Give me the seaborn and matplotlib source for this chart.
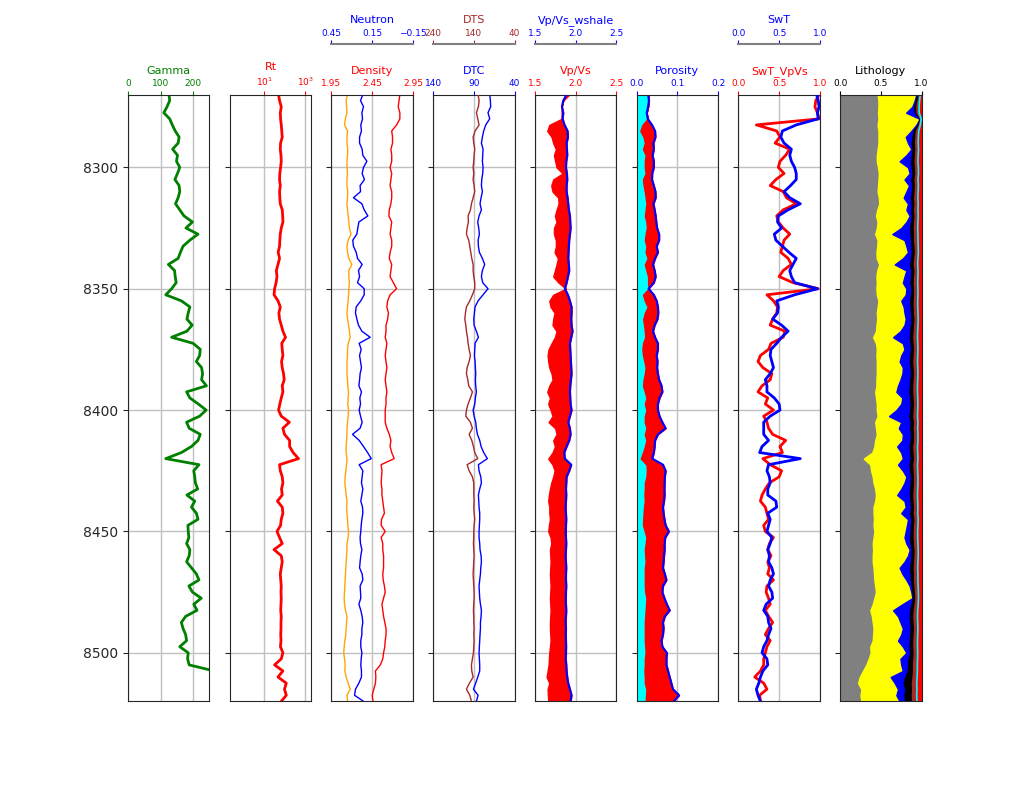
import numpy as np
import matplotlib
matplotlib.use("Agg")
import matplotlib.pyplot as plt
import seaborn as sns

# depth samples (ft), every 2.5 ft
depth = np.array([
    8270, 8272.5, 8275, 8277.5, 8280, 8282.5, 8285, 8287.5, 8290, 8292.5,
    8295, 8297.5, 8300, 8302.5, 8305, 8307.5, 8310, 8312.5, 8315, 8317.5,
    8320, 8322.5, 8325, 8327.5, 8330, 8332.5, 8335, 8337.5, 8340, 8342.5,
    8345, 8347.5, 8350, 8352.5, 8355, 8357.5, 8360, 8362.5, 8365, 8367.5,
    8370, 8372.5, 8375, 8377.5, 8380, 8382.5, 8385, 8387.5, 8390, 8392.5,
    8395, 8397.5, 8400, 8402.5, 8405, 8407.5, 8410, 8412.5, 8415, 8417.5,
    8420, 8422.5, 8425, 8427.5, 8430, 8432.5, 8435, 8437.5, 8440, 8442.5,
    8445, 8447.5, 8450, 8452.5, 8455, 8457.5, 8460, 8462.5, 8465, 8467.5,
    8470, 8472.5, 8475, 8477.5, 8480, 8482.5, 8485, 8487.5, 8490, 8492.5,
    8495, 8497.5, 8500, 8502.5, 8505, 8507.5, 8510, 8512.5, 8515, 8517.5,
    8520])

gamma = [126, 128, 120, 110, 128, 136, 145, 157, 154, 137,
         152, 149, 159, 152, 144, 157, 159, 154, 146, 159,
         172, 198, 178, 215, 190, 169, 161, 154, 124, 143,
         145, 148, 134, 116, 164, 190, 185, 181, 197, 181,
         134, 200, 222, 220, 210, 226, 229, 226, 241, 180,
         190, 216, 240, 220, 180, 188, 222, 215, 195, 164,
         116, 218, 202, 205, 207, 214, 181, 205, 195, 210,
         215, 184, 185, 187, 180, 190, 188, 180, 195, 210,
         218, 187, 198, 225, 202, 212, 177, 164, 169, 177,
         180, 159, 185, 183, 188, 265, 270, 275, 270, 265, 270]

rt = [50, 56, 68, 61, 63, 68, 72, 76, 63, 61,
      66, 68, 63, 58, 56, 61, 56, 58, 61, 76,
      80, 82, 68, 61, 58, 56, 48, 56, 47, 39,
      42, 38, 32, 30, 47, 61, 52, 56, 68, 82,
      110, 72, 76, 82, 70, 76, 88, 95, 76, 82,
      68, 58, 50, 68, 170, 82, 98, 175, 175, 260,
      480, 56, 61, 76, 82, 70, 76, 44, 76, 82,
      68, 63, 42, 56, 76, 30, 68, 76, 68, 61,
      64, 68, 66, 68, 66, 64, 68, 66, 66, 64,
      66, 62, 82, 68, 32, 82, 47, 120, 98, 120, 68]

density = [2.79, 2.78, 2.77, 2.79, 2.79, 2.75, 2.69, 2.70, 2.70, 2.68,
           2.69, 2.69, 2.67, 2.69, 2.68, 2.67, 2.69, 2.69, 2.68, 2.66,
           2.655, 2.69, 2.68, 2.67, 2.69, 2.69, 2.67, 2.66, 2.69, 2.68,
           2.67, 2.71, 2.75, 2.67, 2.64, 2.63, 2.65, 2.64, 2.62, 2.62,
           2.61, 2.63, 2.62, 2.61, 2.62, 2.63, 2.62, 2.61, 2.62, 2.63,
           2.62, 2.62, 2.61, 2.61, 2.61, 2.63, 2.66, 2.68, 2.67, 2.69,
           2.72, 2.56, 2.57, 2.565, 2.56, 2.57, 2.57, 2.58, 2.59, 2.60,
           2.565, 2.56, 2.61, 2.56, 2.58, 2.58, 2.59, 2.59, 2.59, 2.58,
           2.585, 2.60, 2.61, 2.59, 2.57, 2.58, 2.59, 2.605, 2.62, 2.62,
           2.61, 2.605, 2.59, 2.58, 2.55, 2.49, 2.495, 2.49, 2.47, 2.45, 2.46]

neutron = [0.219, 0.236, 0.214, 0.226, 0.221, 0.234, 0.229, 0.243, 0.243, 0.224,
           0.219, 0.189, 0.214, 0.224, 0.207, 0.239, 0.236, 0.288, 0.226, 0.209,
           0.182, 0.248, 0.256, 0.263, 0.293, 0.288, 0.268, 0.258, 0.224, 0.251,
           0.243, 0.258, 0.209, 0.209, 0.234, 0.268, 0.273, 0.263, 0.251, 0.226,
           0.165, 0.246, 0.231, 0.243, 0.236, 0.229, 0.239, 0.243, 0.248, 0.229,
           0.241, 0.236, 0.246, 0.236, 0.224, 0.239, 0.295, 0.246, 0.214, 0.184,
           0.157, 0.246, 0.219, 0.224, 0.229, 0.219, 0.226, 0.234, 0.221, 0.219,
           0.226, 0.231, 0.234, 0.239, 0.236, 0.226, 0.234, 0.239, 0.243, 0.224,
           0.219, 0.239, 0.236, 0.234, 0.248, 0.234, 0.224, 0.219, 0.226, 0.226,
           0.234, 0.234, 0.226, 0.231, 0.234, 0.229, 0.229, 0.248, 0.273, 0.280, 0.214]

# unlabelled orange curve in the density track (density scale)
density_2 = [2.147, 2.13, 2.135, 2.14, 2.12, 2.11, 2.147, 2.14, 2.14, 2.15,
             2.147, 2.14, 2.14, 2.147, 2.14, 2.14, 2.15, 2.147, 2.14, 2.147,
             2.155, 2.163, 2.17, 2.19, 2.155, 2.14, 2.147, 2.163, 2.20, 2.163,
             2.163, 2.17, 2.163, 2.16, 2.155, 2.147, 2.14, 2.147, 2.16, 2.17,
             2.18, 2.155, 2.147, 2.147, 2.14, 2.14, 2.14, 2.147, 2.15, 2.16,
             2.155, 2.15, 2.16, 2.155, 2.147, 2.14, 2.14, 2.135, 2.13, 2.13,
             2.14, 2.135, 2.126, 2.118, 2.114, 2.122, 2.13, 2.14, 2.135, 2.14,
             2.147, 2.15, 2.16, 2.155, 2.14, 2.14, 2.135, 2.13, 2.126, 2.122,
             2.118, 2.114, 2.11, 2.106, 2.11, 2.122, 2.14, 2.135, 2.13, 2.126,
             2.114, 2.106, 2.10, 2.11, 2.118, 2.114, 2.13, 2.155, 2.18, 2.14, 2.147]

dtc = [70.6, 69.8, 69.4, 72.7, 70.6, 75.5, 78.0, 79.6, 80.8, 78.8,
       79.2, 79.6, 78.8, 79.2, 80.4, 80.8, 79.6, 81.2, 82.5, 80.8,
       83.7, 85.3, 84.1, 83.3, 84.9, 84.5, 83.3, 79.6, 76.8, 79.6,
       80.8, 79.2, 72.7, 78.8, 84.9, 88.6, 89.4, 90.2, 89.8, 87.0,
       84.5, 88.6, 89.0, 89.4, 88.6, 88.2, 87.8, 88.2, 87.8, 87.0,
       88.2, 89.0, 91.0, 89.8, 87.8, 87.0, 85.7, 82.9, 81.2, 78.0,
       73.5, 84.5, 83.7, 81.6, 80.8, 82.9, 84.5, 84.1, 83.7, 82.9,
       82.9, 83.3, 83.7, 83.7, 82.9, 82.5, 81.2, 80.8, 81.6, 82.0,
       82.9, 83.7, 83.3, 82.9, 82.0, 80.8, 81.2, 82.0, 82.0, 82.5,
       82.9, 83.3, 83.7, 83.3, 82.9, 82.9, 85.3, 87.8, 90.6, 84.9, 87.0]

dts = [129.8, 127.3, 129.0, 133.9, 130.6, 127.3, 137.1, 142.0, 140.4, 138.0,
       139.6, 140.4, 142.0, 140.4, 142.0, 139.6, 138.0, 142.0, 146.1, 148.6,
       154.3, 153.5, 156.7, 158.4, 152.7, 150.2, 147.8, 145.3, 142.0, 142.0,
       140.4, 138.0, 138.0, 143.7, 150.2, 158.4, 160.8, 162.4, 160.0, 158.4,
       155.9, 154.3, 151.8, 148.6, 151.8, 156.7, 158.4, 155.1, 152.7, 143.7,
       148.6, 154.3, 158.4, 160.0, 148.6, 143.7, 151.8, 145.3, 141.2, 138.0,
       130.6, 156.7, 151.8, 143.7, 140.4, 140.4, 140.4, 139.6, 140.4, 139.6,
       138.0, 139.6, 140.4, 140.4, 141.2, 140.4, 139.6, 140.4, 141.2, 142.0,
       141.2, 140.4, 139.6, 139.6, 140.4, 141.2, 140.4, 140.4, 139.6, 140.4,
       139.6, 140.4, 141.2, 143.7, 146.1, 145.3, 142.0, 151.0, 158.4, 150.2, 146.1]

vpvs = [1.920, 1.847, 1.827, 1.827, 1.827, 1.676, 1.651, 1.704, 1.724, 1.757,
        1.733, 1.749, 1.765, 1.839, 1.724, 1.700, 1.716, 1.786, 1.790, 1.765,
        1.745, 1.765, 1.733, 1.733, 1.757, 1.757, 1.741, 1.782, 1.765, 1.745,
        1.724, 1.790, 1.880, 1.724, 1.676, 1.692, 1.741, 1.724, 1.716, 1.765,
        1.745, 1.704, 1.667, 1.655, 1.663, 1.676, 1.704, 1.716, 1.676, 1.651,
        1.684, 1.663, 1.692, 1.716, 1.667, 1.749, 1.765, 1.724, 1.745, 1.716,
        1.663, 1.716, 1.741, 1.724, 1.700, 1.684, 1.671, 1.663, 1.676, 1.676,
        1.684, 1.671, 1.663, 1.692, 1.700, 1.684, 1.688, 1.692, 1.688, 1.684,
        1.688, 1.692, 1.688, 1.684, 1.688, 1.692, 1.688, 1.684, 1.684, 1.688,
        1.692, 1.684, 1.676, 1.671, 1.667, 1.655, 1.643, 1.676, 1.655, 1.659, 1.663]

vpvs_wshale = [1.888, 1.847, 1.831, 1.847, 1.839, 1.863, 1.900, 1.904, 1.888, 1.892,
               1.896, 1.884, 1.880, 1.892, 1.896, 1.888, 1.888, 1.900, 1.908, 1.916,
               1.929, 1.933, 1.937, 1.929, 1.920, 1.916, 1.912, 1.908, 1.916, 1.920,
               1.904, 1.888, 1.867, 1.904, 1.929, 1.949, 1.949, 1.945, 1.949, 1.961,
               1.945, 1.929, 1.933, 1.937, 1.941, 1.945, 1.949, 1.941, 1.933, 1.929,
               1.933, 1.937, 1.949, 1.929, 1.908, 1.929, 1.937, 1.920, 1.888, 1.859,
               1.867, 1.945, 1.920, 1.888, 1.884, 1.880, 1.884, 1.880, 1.876, 1.880,
               1.884, 1.880, 1.878, 1.880, 1.884, 1.880, 1.876, 1.880, 1.884, 1.880,
               1.880, 1.884, 1.880, 1.878, 1.880, 1.884, 1.880, 1.876, 1.880, 1.878,
               1.880, 1.882, 1.880, 1.878, 1.884, 1.888, 1.896, 1.908, 1.929, 1.949, 1.937]

porosity = [0.028, 0.030, 0.028, 0.0245, 0.027, 0.0375, 0.045, 0.046, 0.041, 0.042,
            0.039, 0.042, 0.042, 0.038, 0.0375, 0.042, 0.046, 0.0465, 0.041, 0.044,
            0.0465, 0.048, 0.050, 0.055, 0.055, 0.049, 0.052, 0.045, 0.040, 0.044,
            0.0465, 0.042, 0.029, 0.042, 0.049, 0.052, 0.053, 0.051, 0.044, 0.040,
            0.045, 0.052, 0.052, 0.049, 0.051, 0.050, 0.052, 0.055, 0.061, 0.063,
            0.056, 0.052, 0.052, 0.056, 0.063, 0.071, 0.052, 0.045, 0.044, 0.042,
            0.038, 0.0645, 0.071, 0.069, 0.0685, 0.068, 0.0685, 0.067, 0.0645, 0.066,
            0.068, 0.071, 0.079, 0.070, 0.0685, 0.0685, 0.067, 0.066, 0.0645, 0.069,
            0.073, 0.0645, 0.063, 0.068, 0.074, 0.081, 0.069, 0.0645, 0.066, 0.0645,
            0.061, 0.063, 0.074, 0.073, 0.073, 0.077, 0.081, 0.085, 0.089, 0.104, 0.091]

porosity_eff = [0.028, 0.030, 0.028, 0.0245, 0.027, 0.014, 0.009, 0.017, 0.020, 0.0155,
                0.022, 0.020, 0.020, 0.022, 0.0155, 0.017, 0.020, 0.022, 0.024, 0.022,
                0.020, 0.024, 0.025, 0.022, 0.020, 0.024, 0.022, 0.027, 0.020, 0.024,
                0.028, 0.028, 0.029, 0.0155, 0.020, 0.027, 0.020, 0.016, 0.018, 0.020,
                0.021, 0.0155, 0.014, 0.0155, 0.019, 0.022, 0.020, 0.017, 0.0155, 0.020,
                0.024, 0.020, 0.024, 0.020, 0.020, 0.024, 0.020, 0.024, 0.020, 0.0155,
                0.010, 0.024, 0.025, 0.024, 0.020, 0.020, 0.019, 0.020, 0.018, 0.017,
                0.016, 0.0155, 0.020, 0.024, 0.022, 0.020, 0.021, 0.022, 0.020, 0.020,
                0.020, 0.020, 0.021, 0.024, 0.023, 0.022, 0.021, 0.020, 0.020, 0.020,
                0.020, 0.021, 0.022, 0.020, 0.020, 0.019, 0.020, 0.020, 0.024, 0.023, 0.022]

swt_vpvs = [0.99, 0.95, 0.94, 0.97, 0.99, 0.22, 0.47, 0.51, 0.45, 0.63,
            0.58, 0.51, 0.49, 0.56, 0.46, 0.39, 0.55, 0.59, 0.71, 0.55,
            0.47, 0.49, 0.55, 0.63, 0.56, 0.54, 0.52, 0.61, 0.65, 0.55,
            0.50, 0.67, 0.98, 0.35, 0.43, 0.48, 0.47, 0.42, 0.39, 0.57,
            0.55, 0.40, 0.37, 0.27, 0.24, 0.30, 0.41, 0.39, 0.29, 0.24,
            0.36, 0.33, 0.43, 0.31, 0.35, 0.37, 0.42, 0.58, 0.51, 0.54,
            0.30, 0.39, 0.53, 0.50, 0.38, 0.33, 0.29, 0.27, 0.33, 0.35,
            0.37, 0.31, 0.33, 0.43, 0.38, 0.36, 0.40, 0.36, 0.38, 0.36,
            0.43, 0.35, 0.34, 0.37, 0.39, 0.33, 0.37, 0.42, 0.37, 0.33,
            0.39, 0.35, 0.33, 0.31, 0.31, 0.27, 0.20, 0.31, 0.35, 0.26, 0.27]

swt = [0.96, 0.98, 0.99, 0.97, 0.98, 0.71, 0.54, 0.52, 0.56, 0.65,
       0.63, 0.65, 0.69, 0.71, 0.71, 0.64, 0.56, 0.63, 0.76, 0.61,
       0.49, 0.48, 0.53, 0.44, 0.46, 0.54, 0.62, 0.71, 0.67, 0.63,
       0.65, 0.69, 0.97, 0.69, 0.47, 0.49, 0.48, 0.42, 0.53, 0.61,
       0.53, 0.47, 0.40, 0.39, 0.41, 0.43, 0.39, 0.33, 0.35, 0.35,
       0.44, 0.50, 0.51, 0.39, 0.31, 0.31, 0.31, 0.37, 0.29, 0.26,
       0.76, 0.37, 0.35, 0.38, 0.39, 0.36, 0.36, 0.46, 0.47, 0.36,
       0.39, 0.37, 0.35, 0.41, 0.39, 0.36, 0.38, 0.37, 0.41, 0.43,
       0.39, 0.37, 0.41, 0.42, 0.34, 0.31, 0.36, 0.37, 0.40, 0.37,
       0.35, 0.31, 0.29, 0.35, 0.36, 0.30, 0.27, 0.25, 0.22, 0.24, 0.27]

# lithology: cumulative upper boundary of each component (fraction)
lith_shale = [0.46, 0.47, 0.47, 0.465, 0.47, 0.46, 0.47, 0.47, 0.47, 0.46,
              0.45, 0.45, 0.465, 0.475, 0.47, 0.465, 0.46, 0.475, 0.48, 0.455,
              0.44, 0.46, 0.45, 0.43, 0.46, 0.455, 0.445, 0.45, 0.48, 0.455,
              0.445, 0.45, 0.445, 0.45, 0.47, 0.46, 0.45, 0.455, 0.445, 0.44,
              0.405, 0.44, 0.45, 0.445, 0.45, 0.45, 0.45, 0.445, 0.445, 0.43,
              0.44, 0.45, 0.45, 0.46, 0.43, 0.44, 0.45, 0.43, 0.42, 0.395,
              0.29, 0.37, 0.38, 0.40, 0.41, 0.43, 0.44, 0.43, 0.41, 0.41,
              0.415, 0.41, 0.42, 0.41, 0.40, 0.405, 0.40, 0.40, 0.41, 0.415,
              0.42, 0.43, 0.44, 0.42, 0.40, 0.37, 0.39, 0.40, 0.41, 0.405,
              0.40, 0.37, 0.375, 0.35, 0.32, 0.28, 0.24, 0.22, 0.26, 0.25, 0.26]

lith_sand = [0.935, 0.915, 0.886, 0.81, 0.976, 0.935, 0.874, 0.805, 0.833, 0.874,
             0.813, 0.73, 0.833, 0.854, 0.79, 0.846, 0.813, 0.78, 0.833, 0.813,
             0.854, 0.813, 0.75, 0.64, 0.79, 0.813, 0.833, 0.77, 0.67, 0.813,
             0.79, 0.77, 0.813, 0.805, 0.75, 0.78, 0.79, 0.805, 0.79, 0.74,
             0.65, 0.77, 0.79, 0.75, 0.73, 0.77, 0.764, 0.74, 0.71, 0.69,
             0.764, 0.75, 0.69, 0.60, 0.75, 0.72, 0.77, 0.764, 0.70, 0.75,
             0.77, 0.71, 0.77, 0.813, 0.79, 0.75, 0.70, 0.79, 0.805, 0.75,
             0.833, 0.82, 0.805, 0.79, 0.813, 0.854, 0.833, 0.79, 0.73, 0.764,
             0.813, 0.854, 0.874, 0.886, 0.764, 0.65, 0.71, 0.74, 0.77, 0.75,
             0.71, 0.77, 0.813, 0.74, 0.75, 0.77, 0.62, 0.67, 0.71, 0.69, 0.73]

lith_blue = [0.95, 0.93, 0.91, 0.92, 0.98, 0.95, 0.90, 0.89, 0.88, 0.89,
             0.88, 0.87, 0.88, 0.89, 0.875, 0.885, 0.88, 0.87, 0.88, 0.875,
             0.88, 0.87, 0.86, 0.865, 0.87, 0.875, 0.88, 0.87, 0.86, 0.875,
             0.87, 0.865, 0.875, 0.87, 0.86, 0.865, 0.87, 0.875, 0.87, 0.86,
             0.855, 0.865, 0.87, 0.86, 0.855, 0.865, 0.87, 0.86, 0.855, 0.85,
             0.86, 0.865, 0.86, 0.85, 0.865, 0.86, 0.87, 0.865, 0.855, 0.86,
             0.865, 0.85, 0.86, 0.87, 0.865, 0.86, 0.855, 0.865, 0.87, 0.86,
             0.875, 0.87, 0.865, 0.86, 0.865, 0.88, 0.875, 0.87, 0.86, 0.865,
             0.87, 0.88, 0.89, 0.895, 0.875, 0.86, 0.855, 0.86, 0.865, 0.86,
             0.855, 0.85, 0.86, 0.84, 0.835, 0.83, 0.80, 0.78, 0.80, 0.79, 0.80]

lith_black = [0.965, 0.95, 0.935, 0.94, 0.985, 0.965, 0.93, 0.925, 0.92, 0.925,
              0.92, 0.915, 0.92, 0.925, 0.915, 0.92, 0.915, 0.91, 0.915, 0.91,
              0.915, 0.91, 0.905, 0.91, 0.91, 0.915, 0.92, 0.91, 0.905, 0.915,
              0.91, 0.905, 0.91, 0.91, 0.905, 0.905, 0.91, 0.915, 0.91, 0.905,
              0.90, 0.905, 0.91, 0.905, 0.90, 0.905, 0.91, 0.905, 0.90, 0.90,
              0.905, 0.91, 0.905, 0.90, 0.91, 0.905, 0.91, 0.91, 0.90, 0.905,
              0.91, 0.90, 0.905, 0.91, 0.91, 0.905, 0.90, 0.905, 0.91, 0.905,
              0.915, 0.91, 0.905, 0.905, 0.91, 0.915, 0.915, 0.91, 0.905, 0.91,
              0.91, 0.915, 0.92, 0.925, 0.915, 0.905, 0.90, 0.905, 0.91, 0.905,
              0.90, 0.90, 0.905, 0.90, 0.895, 0.895, 0.89, 0.88, 0.885, 0.88, 0.885]

lith_brown = [0.985, 0.975, 0.97, 0.97, 0.995, 0.985, 0.965, 0.96, 0.958, 0.962,
              0.958, 0.955, 0.96, 0.962, 0.956, 0.96, 0.957, 0.954, 0.958, 0.955,
              0.958, 0.954, 0.952, 0.955, 0.956, 0.958, 0.96, 0.955, 0.952, 0.957,
              0.955, 0.952, 0.955, 0.955, 0.952, 0.953, 0.955, 0.958, 0.955, 0.952,
              0.95, 0.953, 0.955, 0.952, 0.95, 0.953, 0.955, 0.952, 0.95, 0.95,
              0.953, 0.955, 0.952, 0.95, 0.955, 0.952, 0.955, 0.955, 0.95, 0.952,
              0.955, 0.95, 0.952, 0.955, 0.955, 0.952, 0.95, 0.952, 0.955, 0.952,
              0.958, 0.955, 0.952, 0.952, 0.955, 0.958, 0.958, 0.955, 0.952, 0.955,
              0.955, 0.958, 0.96, 0.962, 0.958, 0.952, 0.95, 0.952, 0.955, 0.952,
              0.95, 0.95, 0.952, 0.95, 0.948, 0.948, 0.945, 0.94, 0.943, 0.94, 0.943]

depth_ticks = [8300, 8350, 8400, 8450, 8500]

sns.set_style("ticks")
plt.rcParams["font.family"] = ["DejaVu Sans"]

fig, axes = plt.subplots(1, 8, figsize=(10.24, 7.88), dpi=100, sharey=True)
fig.subplots_adjust(left=0.125, right=0.9, top=0.88, bottom=0.11, wspace=0.25)


def style_top(ax, label, color, lim, ticks, log=False):
    if log:
        ax.set_xscale("log")
    ax.set_xlim(lim)
    ax.set_xticks(ticks)
    ax.minorticks_off()
    ax.xaxis.set_ticks_position("top")
    ax.xaxis.set_label_position("top")
    ax.set_xlabel(label, color=color, fontsize=8, labelpad=4)
    ax.tick_params(axis="x", colors=color, labelsize=6.5, length=3, pad=1.5)


def add_twin(ax):
    tw = ax.twiny()
    tw.spines["top"].set_position(("axes", 1.083))
    tw.spines["top"].set_color("gray")
    tw.spines["top"].set_linewidth(1.5)
    for s in ["left", "right", "bottom"]:
        tw.spines[s].set_visible(False)
    return tw


def curve(ax, values, color, lw):
    sns.lineplot(x=values, y=depth, orient="y", ax=ax, color=color,
                 linewidth=lw, errorbar=None)
    ax.set_ylabel("")


# Gamma
ax = axes[0]
curve(ax, gamma, "green", 2)
style_top(ax, "Gamma", "green", (0, 250), [0, 100, 200])

# Rt
ax = axes[1]
curve(ax, rt, "red", 2)
style_top(ax, "Rt", "red", (0.2, 2000), [10, 1000], log=True)

# Density / Neutron
ax = axes[2]
tw = add_twin(ax)
curve(ax, density_2, "orange", 1)
curve(ax, density, "red", 1)
style_top(ax, "Density", "red", (1.95, 2.95), [1.95, 2.45, 2.95])
curve(tw, neutron, "blue", 1)
style_top(tw, "Neutron", "blue", (0.45, -0.15), [0.45, 0.15, -0.15])

# DTC / DTS
ax = axes[3]
tw = add_twin(ax)
curve(ax, dtc, "blue", 1)
style_top(ax, "DTC", "blue", (140, 40), [140, 90, 40])
curve(tw, dts, "brown", 1)
style_top(tw, "DTS", "brown", (240, 40), [240, 140, 40])

# Vp/Vs
ax = axes[4]
tw = add_twin(ax)
ax.fill_betweenx(depth, vpvs, vpvs_wshale, color="red")
style_top(ax, "Vp/Vs", "red", (1.5, 2.5), [1.5, 2.0, 2.5])
curve(tw, vpvs_wshale, "blue", 1.5)
style_top(tw, "Vp/Vs_wshale", "blue", (1.5, 2.5), [1.5, 2.0, 2.5])

# Porosity
ax = axes[5]
ax.fill_betweenx(depth, 0, porosity_eff, color="cyan")
ax.fill_betweenx(depth, porosity_eff, porosity, color="red")
curve(ax, porosity, "blue", 1.5)
style_top(ax, "Porosity", "blue", (0, 0.2), [0.0, 0.1, 0.2])

# Saturation
ax = axes[6]
tw = add_twin(ax)
curve(ax, swt_vpvs, "red", 2)
style_top(ax, "SwT_VpVs", "red", (0, 1), [0.0, 0.5, 1.0])
curve(tw, swt, "blue", 2)
style_top(tw, "SwT", "blue", (0, 1), [0.0, 0.5, 1.0])

# Lithology
ax = axes[7]
ax.fill_betweenx(depth, 0, lith_shale, color="gray")
ax.fill_betweenx(depth, lith_shale, lith_sand, color="yellow")
ax.fill_betweenx(depth, lith_sand, lith_blue, color="blue")
ax.fill_betweenx(depth, lith_blue, lith_black, color="black")
ax.fill_betweenx(depth, lith_black, lith_brown, color="brown")
ax.fill_betweenx(depth, lith_brown, 1.0, color="red")
curve(ax, lith_brown, "cyan", 1.2)
style_top(ax, "Lithology", "black", (0, 1), [0.0, 0.5, 1.0])

for ax in axes:
    ax.grid(True, color="#c0c0c0", linewidth=1)
    ax.tick_params(axis="y", labelsize=10)

axes[0].set_ylim(8520, 8270)
axes[0].set_yticks(depth_ticks)

fig.savefig("out.png", dpi=100)
